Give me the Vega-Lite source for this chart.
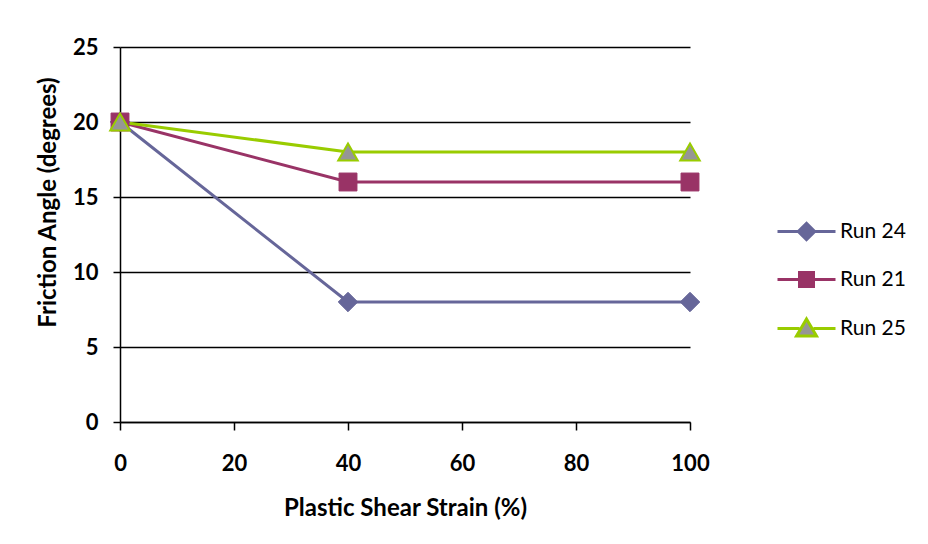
{
  "$schema": "https://vega.github.io/schema/vega-lite/v6.json",
  "width": 570,
  "height": 375,
  "autosize": {"type": "none"},
  "padding": {"left": 120, "top": 47, "right": 238, "bottom": 122},
  "background": "white",
  "config": {
    "view": {"stroke": null},
    "font": "Lato",
    "axis": {
      "labelFont": "Lato",
      "labelFontWeight": "bold",
      "labelFontSize": 22,
      "labelColor": "black",
      "labelFlush": false,
      "titleFont": "Lato",
      "titleFontWeight": "bold",
      "titleFontSize": 24,
      "titleColor": "black",
      "domainColor": "black",
      "domainWidth": 1.5,
      "tickColor": "black",
      "tickWidth": 1.5,
      "gridColor": "black",
      "gridWidth": 1.5,
      "gridOpacity": 1
    },
    "legend": {
      "orient": "none",
      "legendX": 675,
      "legendY": 173,
      "padding": 0,
      "title": null,
      "labelFont": "Lato",
      "labelFontSize": 21,
      "labelColor": "black",
      "labelOffset": 22,
      "symbolSize": 400,
      "symbolStrokeWidth": 3,
      "rowPadding": 20
    }
  },
  "data": {
    "values": [
      {"series": "Run 24", "strain": 0, "angle": 20},
      {"series": "Run 24", "strain": 40, "angle": 8},
      {"series": "Run 24", "strain": 100, "angle": 8},
      {"series": "Run 21", "strain": 0, "angle": 20},
      {"series": "Run 21", "strain": 40, "angle": 16},
      {"series": "Run 21", "strain": 100, "angle": 16},
      {"series": "Run 25", "strain": 0, "angle": 20},
      {"series": "Run 25", "strain": 40, "angle": 18},
      {"series": "Run 25", "strain": 100, "angle": 18}
    ]
  },
  "encoding": {
    "x": {
      "field": "strain",
      "type": "quantitative",
      "title": "Plastic Shear Strain (%)",
      "scale": {"domain": [0, 100], "nice": false, "zero": false},
      "axis": {
        "values": [0, 20, 40, 60, 80, 100],
        "grid": false,
        "tickSize": 8,
        "labelPadding": 23,
        "titlePadding": 22
      }
    },
    "y": {
      "field": "angle",
      "type": "quantitative",
      "title": "Friction Angle (degrees)",
      "scale": {"domain": [0, 25], "nice": false},
      "axis": {
        "values": [0, 5, 10, 15, 20, 25],
        "grid": true,
        "tickSize": 7,
        "labelPadding": 15,
        "titleX": -60,
        "titleY": 155
      }
    }
  },
  "layer": [
    {
      "mark": {"type": "line", "strokeWidth": 3},
      "encoding": {
        "stroke": {
          "field": "series",
          "type": "nominal",
          "title": null,
          "scale": {"domain": ["Run 24", "Run 21", "Run 25"], "range": ["#666699", "#993366", "#99CC00"]}
        },
        "order": {"field": "strain"}
      }
    },
    {
      "transform": [{"filter": "datum.series === 'Run 24'"}],
      "mark": {"type": "point", "shape": "diamond", "filled": true, "fill": "#666699", "stroke": "#666699", "strokeWidth": 1, "size": 380, "opacity": 1}
    },
    {
      "transform": [{"filter": "datum.series === 'Run 21'"}],
      "mark": {"type": "point", "shape": "square", "filled": true, "fill": "#993366", "stroke": "#993366", "strokeWidth": 1, "size": 320, "opacity": 1}
    },
    {
      "transform": [{"filter": "datum.series === 'Run 25'"}],
      "mark": {"type": "point", "shape": "triangle-up", "filled": true, "fill": "#969696", "stroke": "#99CC00", "strokeWidth": 2, "size": 380, "opacity": 1}
    },
    {
      "transform": [{"filter": "false"}],
      "mark": {"type": "point", "filled": true, "opacity": 1, "strokeWidth": 3},
      "encoding": {
        "stroke": {
          "field": "series",
          "type": "nominal",
          "title": null,
          "scale": {"domain": ["Run 24", "Run 21", "Run 25"], "range": ["#666699", "#993366", "#99CC00"]}
        },
        "fill": {
          "field": "series",
          "type": "nominal",
          "title": null,
          "scale": {"domain": ["Run 24", "Run 21", "Run 25"], "range": ["#666699", "#993366", "#969696"]}
        },
        "shape": {
          "field": "series",
          "type": "nominal",
          "title": null,
          "scale": {
            "domain": ["Run 24", "Run 21", "Run 25"],
            "range": [
              "M-2.9,0H2.9M0,-0.82L0.82,0L0,0.82L-0.82,0Z",
              "M-2.9,0H2.9M-0.7,-0.7H0.7V0.7H-0.7Z",
              "M-2.9,0H-0.7M0.7,0H2.9M0,-0.95L1,0.75L-1,0.75Z"
            ]
          }
        }
      }
    }
  ]
}
